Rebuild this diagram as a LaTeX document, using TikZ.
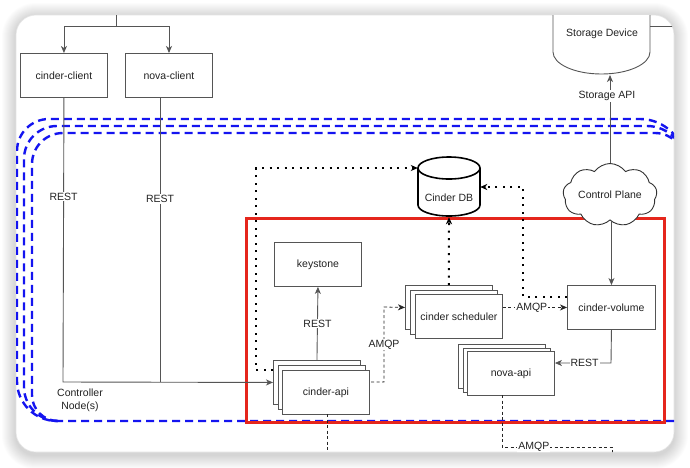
\documentclass[tikz,border=0pt]{standalone}
\usepackage{fontspec}
\setmainfont{Liberation Sans}
\usetikzlibrary{arrows.meta,shapes.geometric,shapes.symbols,calc}
\definecolor{boxline}{HTML}{555555}
\definecolor{txt}{HTML}{222222}
\definecolor{redb}{HTML}{E5261C}
\definecolor{blueb}{HTML}{1414F0}
\begin{document}
\begin{tikzpicture}[x=1pt,y=-1pt,
  every node/.style={font=\fontsize{10.5}{13}\selectfont, text=txt},
  box/.style={draw=boxline, line width=0.9pt, fill=white, minimum width=87pt, minimum height=44pt, inner sep=0pt, anchor=north west},
  conn/.style={draw=boxline, line width=0.9pt},
  arr/.style={-{Stealth[length=7pt,width=6pt,inset=2pt]}},
  dotline/.style={draw=black, line width=2pt, dash pattern=on 2pt off 5.5pt},
  dashline/.style={draw=black!85, line width=0.8pt, dash pattern=on 3pt off 2.5pt},
  lbl/.style={fill=white, inner sep=1pt},
  bluedash/.style={draw=blueb, line width=2.4pt, dash pattern=on 8pt off 5pt},
]
\useasboundingbox (0,0) rectangle (690,467);
\fill[white] (0,0) rectangle (690,467);
% shadow
\foreach \i in {1,...,14}{
  \pgfmathsetmacro\r{20+\i}
  \fill[black, opacity=0.011, rounded corners=\r pt] (16-\i,15-\i+2) rectangle (674+\i,452+\i+3);
}
\fill[white, draw=black!10, line width=0.6pt, rounded corners=20pt] (16,15) rectangle (674,452);
\begin{scope}
\clip[rounded corners=20pt] (16,15) rectangle (674,452);
% blue dashed stack (controller node area)
\draw[bluedash] (700,421) -- (57,421) arc[start angle=270, end angle=180, radius=40pt] -- (17,151) arc[start angle=180, end angle=90, radius=32pt] -- (640,119) arc[start angle=90, end angle=0, radius=45pt] -- (685,300);
\draw[bluedash] (58,421) arc[start angle=270, end angle=180, radius=34pt] -- (24,159) arc[start angle=180, end angle=90, radius=33pt] -- (647,126) arc[start angle=90, end angle=0, radius=38pt] -- (685,300);
\draw[bluedash] (58,421) arc[start angle=270, end angle=180, radius=26pt] -- (32,164) arc[start angle=180, end angle=90, radius=31pt] -- (655,133) arc[start angle=90, end angle=0, radius=30pt] -- (685,300);
% red container
\node[draw=redb, line width=2.5pt, minimum width=418pt, minimum height=204pt, inner sep=0pt, anchor=north west] (ctrl) at (245,217) {};

% coordinates beyond the card
\coordinate (topin) at (116,0);
\coordinate (sdright) at (700,26);
\coordinate (capidown) at (327,470);
\coordinate (amqpdown) at (612,470);

% nodes
\node[box] (cc) at (20,53) {cinder-client};
\node[box] (nc) at (125,53) {nova-client};
\node[box] (ks) at (274,242) {keystone};
\node[box, minimum width=88pt] (cv) at (567,285) {cinder-volume};
\node[box] (s3) at (405,285) {};
\node[box] (s2) at (410,289.5) {};
\node[box] (s1) at (415,294) {cinder scheduler};
\node[box] (a3) at (273,360) {};
\node[box] (a2) at (277.5,365) {};
\node[box] (a1) at (282,370) {cinder-api};
\node[box] (n3) at (458,344) {};
\node[box] (n2) at (462.5,347.5) {};
\node[box] (n1) at (467,351) {nova-api};
\node[cloud, cloud puffs=9, cloud puff arc=110, aspect=1.8, draw=black!80, line width=0.9pt, fill=white, minimum width=94pt, minimum height=60pt, inner sep=0pt] (cp) at (610,195) {Control Plane};

% Cinder DB cylinder
\node[minimum width=62pt, minimum height=60pt, inner sep=0pt] (db) at (449,187) {};
\draw[black, line width=1.6pt, fill=white] (418,168) -- (418,205) arc[start angle=180, end angle=360, x radius=31pt, y radius=11pt] -- (480,168);
\draw[black, line width=1.6pt, fill=white] (449,168) ellipse [x radius=31pt, y radius=11pt];
\node at (449,198) {Cinder DB};

% Storage Device
\node[minimum width=97pt, minimum height=60pt, inner sep=0pt] (sd) at (601.5,45) {};
\draw[conn, fill=white] (553,0) -- (553,52) arc[start angle=180, end angle=360, x radius=48.5pt, y radius=22pt] -- (650,0);
\node at (602,34) {Storage Device};
\draw[conn] (650,26) -- (sdright);

% top connectors
\draw[conn] (topin) -- (116,26);
\draw[conn, arr] (116,26) -| (cc.north);
\draw[conn, arr] (116,26) -| (169,53);

% REST from clients
\draw[conn, arr] (cc.south) -- node[lbl, pos=0.347]{REST} (63,382) -- (a3.west);
\draw[conn] (160,97) -- node[lbl, pos=0.358]{REST} (160,382);
\node[align=center] (cn) at (80,400) {Controller\\Node(s)};

% keystone
\draw[conn, arr] (a3.north) -- node[lbl]{REST} (ks.south);

% AMQP api -> scheduler
\draw[dashline, arr] (371,382) -- (384,382) -- node[lbl]{AMQP} (384,307) -- (s3.west);
% AMQP scheduler -> volume
\draw[dashline, arr] (s1.east |- cv.west) -- node[lbl, pos=0.45]{AMQP} (cv.west);

% dotted to DB
\draw[dotline, arr] ($(a3.north west)+(0,10)$) -- (256,370) -- (256,168) -- ($(db.west)+(0,-19)$);
\draw[dotline, arr] (s3.north) -- (db.south);
\draw[dotline, arr] ($(cv.north west)+(0,12)$) -- (523,297) -- (523,187) -- (db.east);

% control plane
\draw[conn, arr] (cp.north) -- (610,75);
\node[lbl] at (607,96) {Storage API};
\draw[conn, arr] (cv.north |- cp.south) -- (cv.north);

% REST volume -> nova-api
\draw[conn, arr] (cv.south) -- (611,363) -- node[lbl, pos=0.47]{REST} (n1.east |- 0,363);

% dashed downward
\draw[dashline] (502,395) -- (502,447) -- node[lbl, pos=0.29]{AMQP} (612,447) -- (amqpdown);
\draw[dashline] (327,414) -- (capidown);
\end{scope}
\end{tikzpicture}
\end{document}
